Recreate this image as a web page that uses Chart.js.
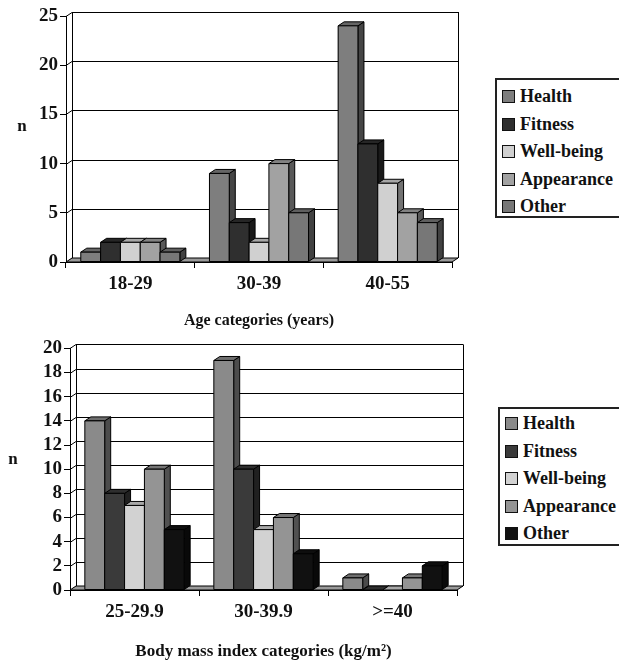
<!DOCTYPE html>
<html>
<head>
<meta charset="utf-8">
<script src="https://cdn.jsdelivr.net/npm/chart.js@4/dist/chart.umd.min.js"></script>
<style>
  body { margin: 0; background: #fff; width: 619px; height: 662px; position: relative; overflow: hidden; }
  .wrap { position: absolute; left: 0; width: 619px; }
  .legend {
    position: absolute; width: 140px; border: 2px solid #222; background: #fff;
    font: bold 18px "Liberation Serif", "Times New Roman", serif; color: #111;
    box-sizing: border-box;
  }
  .legend div { height: 27.5px; line-height: 27.5px; white-space: nowrap; }
  .legend span { display: inline-block; width: 11px; height: 11px; border: 1px solid #111; margin-right: 5px; vertical-align: -1px; }
</style>
</head>
<body>
<div class="wrap" style="top:0; height:335px;"><canvas id="ageChart"></canvas></div>
<div class="wrap" style="top:335px; height:327px;"><canvas id="bmiChart"></canvas></div>
<div class="legend" id="ageLegend" style="left:495px; top:78px; height:140px; padding:3px 0 0 5px;"></div>
<div class="legend" id="bmiLegend" style="left:498px; top:407px; height:139px; padding:1px 0 0 5px;"></div>
<script>
// categories
const ageLabels = ['18-29', '30-39', '40-55'];
const bmiLabels = ['25-29.9', '30-39.9', '>=40'];
const seriesNames = ['Health', 'Fitness', 'Well-being', 'Appearance', 'Other'];

// age chart values
const ageHealth = [1, 9, 24];
const ageFitness = [2, 4, 12];
const ageWellbeing = [2, 2, 8];
const ageAppearance = [2, 10, 5];
const ageOther = [1, 5, 4];

// bmi chart values
const bmiHealth = [14, 19, 1];
const bmiFitness = [8, 10, 0];
const bmiWellbeing = [7, 5, 0];
const bmiAppearance = [10, 6, 1];
const bmiOther = [5, 3, 2];

const ageColors = ['#7e7e7e', '#2f2f2f', '#d0d0d0', '#a2a2a2', '#777777'];
const bmiColors = ['#8a8a8a', '#3a3a3a', '#d2d2d2', '#949494', '#111111'];

const DX = 6, DY = -4;
const FONT = '"Liberation Serif", "Times New Roman", serif';

function shade(hex, f) {
  const n = parseInt(hex.slice(1), 16);
  const r = Math.round(((n >> 16) & 255) * f);
  const g = Math.round(((n >> 8) & 255) * f);
  const b = Math.round((n & 255) * f);
  return `rgb(${r},${g},${b})`;
}

function poly(ctx, pts, fill) {
  ctx.beginPath();
  ctx.moveTo(pts[0][0], pts[0][1]);
  for (let i = 1; i < pts.length; i++) ctx.lineTo(pts[i][0], pts[i][1]);
  ctx.closePath();
  if (fill) { ctx.fillStyle = fill; ctx.fill(); }
  ctx.stroke();
}

// back wall, floor and the 3d faces of the columns
const box3d = {
  id: 'box3d',
  beforeDatasetsDraw(chart) {
    const { ctx, chartArea: a, scales: { y } } = chart;
    ctx.save();
    ctx.strokeStyle = '#000';
    ctx.lineWidth = 1;
    y.ticks.forEach(t => {
      const py = Math.round(y.getPixelForValue(t.value)) + 0.5;
      ctx.beginPath();
      ctx.moveTo(a.left, py);
      ctx.lineTo(a.left + DX, py + DY);
      ctx.lineTo(a.right + DX, py + DY);
      ctx.stroke();
    });
    ctx.beginPath();
    ctx.moveTo(a.left + DX + 0.5, a.bottom + DY);
    ctx.lineTo(a.left + DX + 0.5, a.top + DY);
    ctx.moveTo(a.right + DX + 0.5, a.bottom + DY);
    ctx.lineTo(a.right + DX + 0.5, a.top + DY);
    ctx.stroke();
    poly(ctx, [[a.left, a.bottom], [a.right, a.bottom], [a.right + DX, a.bottom + DY], [a.left + DX, a.bottom + DY]], '#9a9a9a');
    ctx.restore();
  },
  afterDatasetsDraw(chart) {
    const ctx = chart.ctx;
    const n = chart.data.labels.length;
    ctx.save();
    ctx.strokeStyle = '#000';
    ctx.lineWidth = 1;
    for (let j = 0; j < n; j++) {
      chart.data.datasets.forEach((ds, i) => {
        const el = chart.getDatasetMeta(i).data[j];
        const { x, y, base, width } = el.getProps(['x', 'y', 'base', 'width'], true);
        const l = x - width / 2, r = x + width / 2;
        const c = ds.backgroundColor;
        poly(ctx, [[r, y], [r + DX, y + DY], [r + DX, base + DY], [r, base]], shade(c, 0.55));
        poly(ctx, [[l, y], [l + DX, y + DY], [r + DX, y + DY], [r, y]], shade(c, 0.8));
        if (base - y > 0.5) poly(ctx, [[l, y], [r, y], [r, base], [l, base]], c);
      });
    }
    ctx.restore();
  }
};

// horizontal "n" beside the y axis
const nLabel = {
  id: 'nLabel',
  afterDraw(chart, args, opts) {
    const ctx = chart.ctx;
    ctx.save();
    ctx.font = 'bold 17px ' + FONT;
    ctx.fillStyle = '#111';
    ctx.textAlign = 'center';
    ctx.textBaseline = 'middle';
    ctx.fillText('n', opts.x, opts.y);
    ctx.restore();
  }
};

function makeChart(id, labels, series, colors, o) {
  return new Chart(document.getElementById(id), {
    type: 'bar',
    data: {
      labels: labels,
      datasets: series.map((d, i) => ({
        label: seriesNames[i],
        data: d,
        backgroundColor: colors[i],
        borderColor: '#000',
        borderWidth: 1,
        barPercentage: 1,
        categoryPercentage: 0.77
      }))
    },
    options: {
      responsive: true,
      maintainAspectRatio: false,
      animation: false,
      layout: { padding: { top: o.top, right: o.right, bottom: 0, left: 0 } },
      plugins: {
        legend: { display: false },
        tooltip: { enabled: false },
        nLabel: { x: o.nx, y: o.ny }
      },
      scales: {
        x: {
          afterFit: s => { s.height = o.xHeight; },
          grid: { display: true, drawOnChartArea: false, tickLength: 6, color: '#000', offset: true },
          border: { display: true, color: '#000' },
          ticks: { color: '#111', font: { family: FONT, size: 19, weight: 'bold' }, padding: 5 },
          title: {
            display: true, text: o.title, color: '#111',
            font: { family: FONT, size: o.titleSize, weight: 'bold' },
            padding: { top: 0, bottom: o.titlePad }
          }
        },
        y: {
          min: 0, max: o.max,
          afterFit: s => { s.width = o.yWidth; },
          grid: { display: true, drawOnChartArea: false, tickLength: 6, color: '#000' },
          border: { display: true, color: '#000' },
          ticks: { stepSize: o.step, autoSkip: false, color: '#111', font: { family: FONT, size: 19, weight: 'bold' }, padding: 2 }
        }
      }
    },
    plugins: [box3d, nLabel]
  });
}

makeChart('ageChart', ageLabels,
  [ageHealth, ageFitness, ageWellbeing, ageAppearance, ageOther], ageColors,
  { top: 16, right: 167, xHeight: 73, yWidth: 66, max: 25, step: 5,
    title: 'Age categories (years)', titleSize: 16, titlePad: 5, nx: 22, ny: 127 });

makeChart('bmiChart', bmiLabels,
  [bmiHealth, bmiFitness, bmiWellbeing, bmiAppearance, bmiOther], bmiColors,
  { top: 10, right: 162, xHeight: 72, yWidth: 70, max: 20, step: 2,
    title: 'Body mass index categories (kg/m²)', titleSize: 17, titlePad: 0, nx: 13, ny: 125 });

function buildLegend(id, colors) {
  const box = document.getElementById(id);
  seriesNames.forEach((name, i) => {
    const row = document.createElement('div');
    const sw = document.createElement('span');
    sw.style.background = colors[i];
    row.appendChild(sw);
    row.appendChild(document.createTextNode(name));
    box.appendChild(row);
  });
}
buildLegend('ageLegend', ageColors);
buildLegend('bmiLegend', bmiColors);
</script>
</body>
</html>
